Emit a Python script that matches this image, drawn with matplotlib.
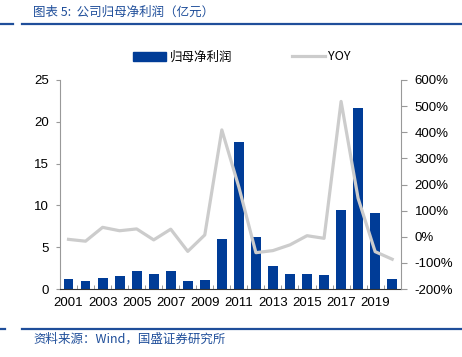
import matplotlib.pyplot as plt
from matplotlib.lines import Line2D
from matplotlib.patches import Patch
from matplotlib.ticker import FixedLocator, FuncFormatter

plt.rcParams['font.family'] = ['Liberation Sans', 'Noto Sans CJK SC', 'DejaVu Sans']

# 数据
anos = list(range(2001, 2021))
beneficio = [1.2, 1.0, 1.3, 1.6, 2.1, 1.8, 2.2, 1.0, 1.1, 6.0,
             17.6, 6.2, 2.7, 1.8, 1.8, 1.7, 9.5, 21.6, 9.1, 1.2]
yoy = [-10, -17, 36, 23, 30, -12, 29, -56, 7, 409,
       190, -61, -53, -31, 4, -6, 518, 147, -57, -86]
etiquetas = [str(a) if a % 2 == 1 else '' for a in anos]

azul = '#003C97'
gris = '#CCCCCC'
azul_texto = '#1F4E9A'

W, H = 462, 357
fig = plt.figure(figsize=(W / 100, H / 100), dpi=100)

# Ejes principales
x0, x1, y0, y1 = 60, 400.7, 80, 289
ax = fig.add_axes([x0 / W, 1 - y1 / H, (x1 - x0) / W, (y1 - y0) / H])
pos = list(range(len(anos)))
ax.bar(pos, beneficio, width=0.58, color=azul, zorder=3)
ax.set_xlim(-0.5, len(anos) - 0.5)
ax.set_ylim(0, 25)
ax.set_yticks([0, 5, 10, 15, 20, 25])
ax.set_xticks(pos)
ax.set_xticklabels(etiquetas)
ax.xaxis.set_minor_locator(FixedLocator([p + 0.5 for p in pos[:-1]]))
ax.tick_params(axis='x', which='major', length=0, pad=6, labelsize=9.5)
ax.tick_params(axis='x', which='minor', length=3, direction='in', color='#888888')
ax.tick_params(axis='y', length=3, color='#999999', pad=5, labelsize=9.5)
for s in ['top', 'right']:
    ax.spines[s].set_visible(False)
ax.spines['left'].set_color('#999999')
ax.spines['bottom'].set_color('#333333')
ax.spines['bottom'].set_zorder(5)

# Eje derecho (YOY)
ax2 = ax.twinx()
ax2.plot(pos, yoy, color=gris, linewidth=2.3, zorder=4)
ax2.set_ylim(-200, 600)
ax2.set_yticks(list(range(-200, 601, 100)))
ax2.yaxis.set_major_formatter(FuncFormatter(lambda v, p: f'{v:.0f}%'))
ax2.tick_params(axis='y', length=4, color='#999999', pad=6, labelsize=9.5)
for s in ['top', 'left', 'bottom']:
    ax2.spines[s].set_visible(False)
ax2.spines['right'].set_color('#999999')

# Leyenda
handles = [Patch(facecolor=azul, edgecolor=azul),
           Line2D([0], [0], color=gris, linewidth=2.3)]
fig.legend(handles, ['归母净利润', 'YOY'], loc='center',
           bbox_to_anchor=(242 / W, 1 - 57 / H), ncol=2, frameon=False,
           handlelength=2.6, handletextpad=0.3, columnspacing=4.8,
           prop={'family': ['Noto Sans CJK SC', 'DejaVu Sans'], 'size': 9})

# Titulo y fuente
fig.text(33 / W, 1 - 12 / H, '图表 5:  公司归母净利润（亿元）', color=azul_texto,
         fontsize=9, style='italic', va='center', ha='left',
         family=['Noto Sans CJK SC', 'DejaVu Sans'])
fig.text(33 / W, 1 - 339 / H, '资料来源：Wind，国盛证券研究所', color=azul_texto,
         fontsize=9, style='italic', va='center', ha='left',
         family=['Noto Sans CJK SC', 'DejaVu Sans'])

# Lineas separadoras
for y, tramos in [(24, [(0, 13), (22, 462)]), (329, [(0, 5), (22, 462)])]:
    for a, b in tramos:
        fig.add_artist(Line2D([a / W, b / W], [1 - y / H, 1 - y / H],
                              color=azul_texto, linewidth=1.6))

fig.savefig('out.png', dpi=100)
